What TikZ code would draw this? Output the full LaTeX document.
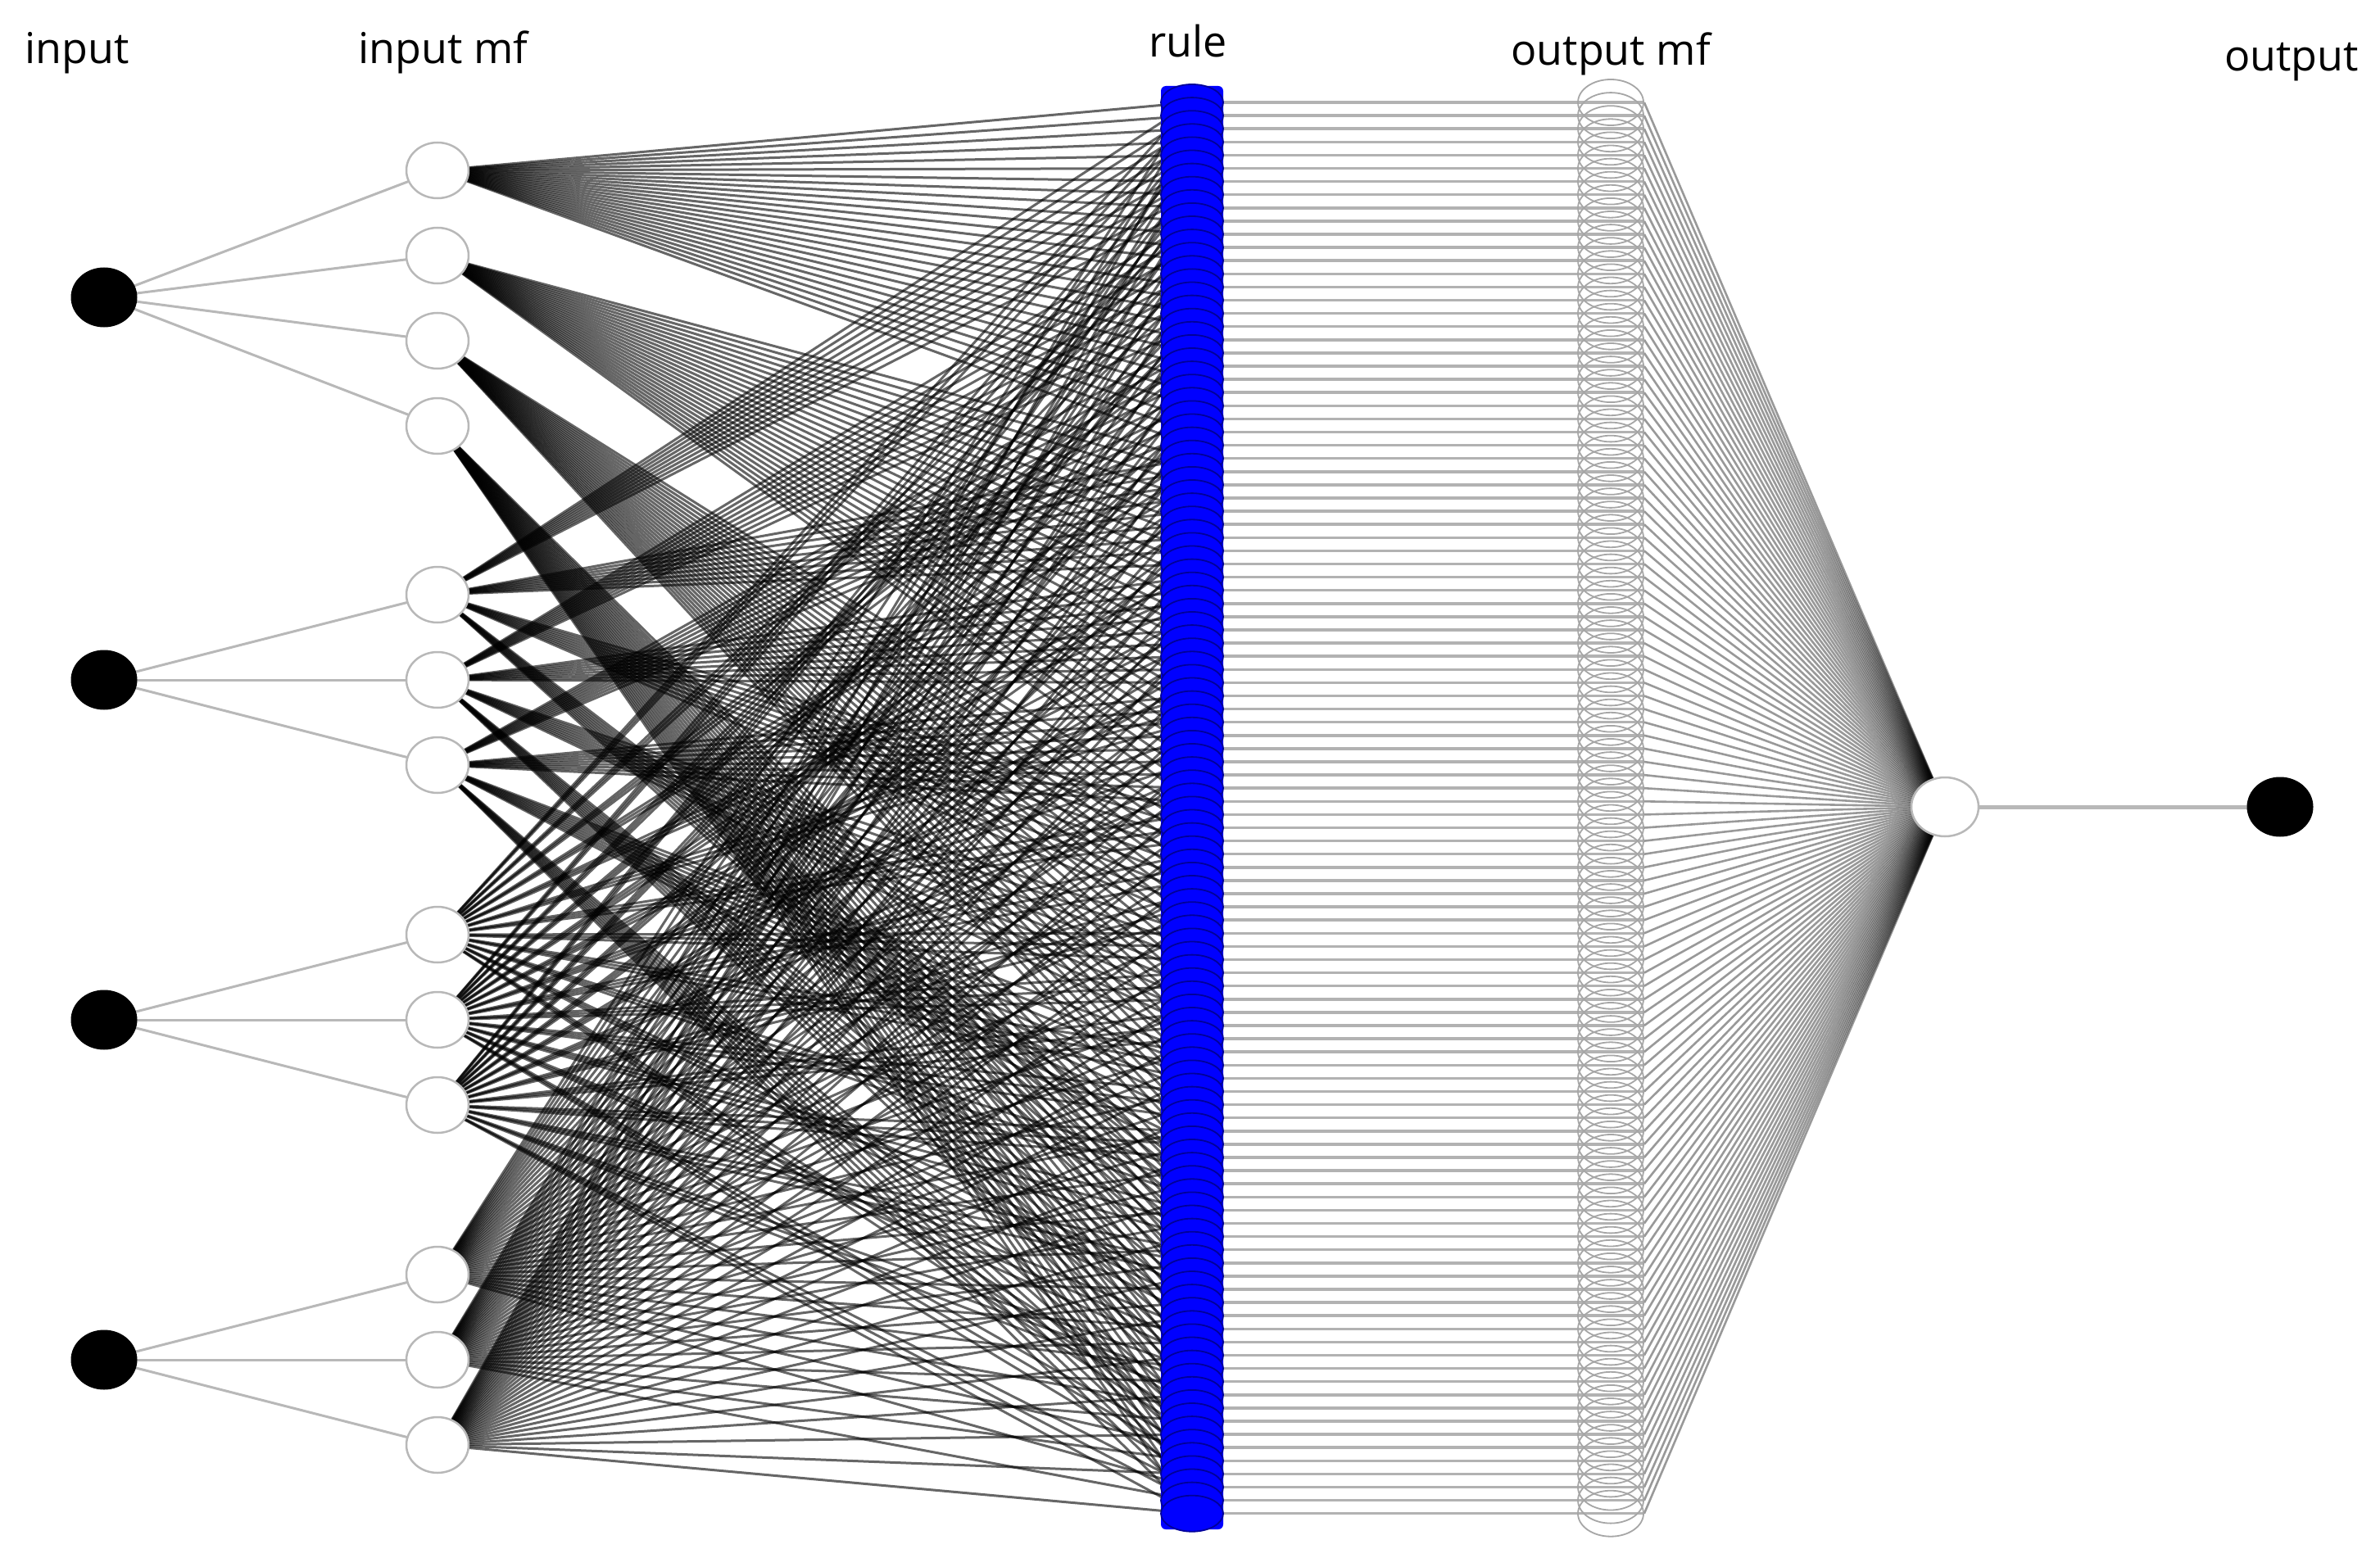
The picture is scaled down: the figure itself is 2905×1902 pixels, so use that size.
\documentclass[tikz,border=0pt]{standalone}
\usepackage{fontspec}
\setmainfont{Open Sans}
\usetikzlibrary{shapes.geometric,backgrounds}
\begin{document}
\begin{tikzpicture}[x=1pt,y=-1pt,
  inode/.style={ellipse, fill=black, draw=none, minimum width=81pt, minimum height=73pt, inner sep=0pt},
  mfnode/.style={ellipse, fill=white, draw=black!28, line width=2.5pt, minimum width=76pt, minimum height=68pt, inner sep=0pt},
  rulenode/.style={ellipse, fill=blue, draw=blue!60!black, line width=1.8pt, minimum width=76pt, minimum height=44pt, inner sep=0pt},
  rulecol/.style={fill=blue, draw=none, rounded corners=6pt},
  omfnode/.style={ellipse, draw=black!35, line width=1.8pt, minimum width=80pt, minimum height=56pt, inner sep=0pt},
  lbl/.style={font=\fontsize{52}{60}\selectfont, anchor=base, inner sep=0pt},
  link/.style={draw=black!28, line width=3pt},
  mflink/.style={draw=black, line width=3pt, draw opacity=0.6},
  rlink/.style={draw=black!30, line width=3.5pt},
  olink/.style={draw=black, line width=2.6pt, draw opacity=0.4}
]
\useasboundingbox (0,0) rectangle (2905,1902);
% labels
\node[lbl] (t1) at (94,78) {input};
\node[lbl] (t2) at (541,78) {input mf};
\node[lbl] (t3) at (1450,70) {rule};
\node[lbl] (t4) at (1966,80) {output mf};
\node[lbl] (t5) at (2797,87) {output};
% input nodes
\foreach \i/\y in {1/363,2/830,3/1245,4/1660} \node[inode] (in\i) at (127,\y) {};
% input mf nodes
\foreach \k/\y in {1/208,2/312,3/416,4/520} \node[mfnode] (m-1-\k) at (534,\y) {};
\foreach \k/\y in {1/726,2/830,3/934} \node[mfnode] (m-2-\k) at (534,\y) {};
\foreach \k/\y in {1/1141,2/1245,3/1349} \node[mfnode] (m-3-\k) at (534,\y) {};
\foreach \k/\y in {1/1556,2/1660,3/1764} \node[mfnode] (m-4-\k) at (534,\y) {};
% rule column and output mf nodes
\fill[rulecol] (1417,105) rectangle (1493,1867);
\foreach \r in {0,...,107} {
  \pgfmathsetmacro\ry{125+\r*16.1}
  \node[rulenode] (r\r) at (1455,\ry) {};
  \node[omfnode] (o\r) at (1966,\ry) {};
}
% aggregation and output
\node[mfnode, minimum width=82pt, minimum height=72pt] (agg) at (2374,985) {};
\node[inode] (out) at (2783,985) {};
\begin{pgfonlayer}{background}
\foreach \k in {1,...,4} \draw[link] (in1.center) -- (m-1-\k.center);
\foreach \k in {1,...,3} {
  \draw[link] (in2.center) -- (m-2-\k.center);
  \draw[link] (in3.center) -- (m-3-\k.center);
  \draw[link] (in4.center) -- (m-4-\k.center);
}
\foreach \r in {0,...,107} {
  \pgfmathtruncatemacro\a{div(\r,27)+1}
  \pgfmathtruncatemacro\b{mod(div(\r,9),3)+1}
  \pgfmathtruncatemacro\c{mod(div(\r,3),3)+1}
  \pgfmathtruncatemacro\d{mod(\r,3)+1}
  \draw[mflink] (m-1-\a.center) -- (r\r.center);
  \draw[mflink] (m-2-\b.center) -- (r\r.center);
  \draw[mflink] (m-3-\c.center) -- (r\r.center);
  \draw[mflink] (m-4-\d.center) -- (r\r.center);
  \draw[rlink] (r\r.center) -- (o\r.east);
  \draw[olink] (o\r.east) -- (agg.center);
}
\draw[link, line width=5pt] (agg.center) -- (out.center);
\end{pgfonlayer}
\end{tikzpicture}
\end{document}
